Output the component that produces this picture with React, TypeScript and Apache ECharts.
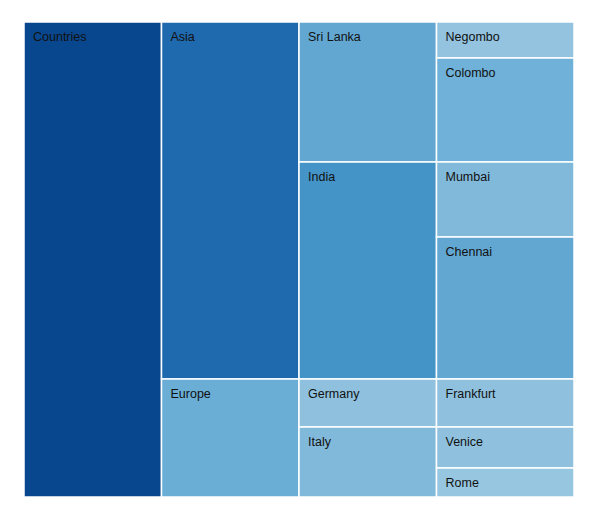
import React, { useEffect, useRef } from "react";
import * as echarts from "echarts";

const rootName = "Countries";
const regions = ["Asia", "Europe"];
const countries = ["Sri Lanka", "India", "Germany", "Italy"];
const countryRegion = ["Asia", "Asia", "Europe", "Europe"];
const cities = ["Negombo", "Colombo", "Mumbai", "Chennai", "Frankfurt", "Venice", "Rome"];
const cityCountry = ["Sri Lanka", "Sri Lanka", "India", "India", "Germany", "Italy", "Italy"];
const cityValues = [36, 104, 75, 142, 48, 41, 29];

const colors: Record<string, string> = {
  Countries: "#08478d",
  Asia: "#1f69ae",
  Europe: "#6aaed6",
  "Sri Lanka": "#62a7d2",
  India: "#4594c7",
  Germany: "#8fc1de",
  Italy: "#81b9da",
  Negombo: "#93c3df",
  Colombo: "#6fb1d8",
  Mumbai: "#81b9da",
  Chennai: "#62a7d2",
  Frankfurt: "#8fc1de",
  Venice: "#8fc1de",
  Rome: "#97c6e0",
};

function buildData() {
  const rows: any[] = [];
  const sum = (arr: number[]) => arr.reduce((a, b) => a + b, 0);
  const countryVal = (c: string) => sum(cities.map((x, i) => (cityCountry[i] === c ? cityValues[i] : 0)));
  const regionVal = (r: string) => sum(countries.map((c, i) => (countryRegion[i] === r ? countryVal(c) : 0)));
  const total = sum(regions.map(regionVal));
  rows.push({ name: rootName, value: [0, 0, total] });
  let yR = 0;
  regions.forEach((r) => {
    const rv = regionVal(r);
    rows.push({ name: r, value: [1, yR, yR + rv] });
    let yC = yR;
    countries.forEach((c, ci) => {
      if (countryRegion[ci] !== r) return;
      const cv = countryVal(c);
      rows.push({ name: c, value: [2, yC, yC + cv] });
      let yT = yC;
      cities.forEach((t, ti) => {
        if (cityCountry[ti] !== c) return;
        rows.push({ name: t, value: [3, yT, yT + cityValues[ti]] });
        yT += cityValues[ti];
      });
      yC += cv;
    });
    yR += rv;
  });
  return { rows, total };
}

export default function App() {
  const ref = useRef<HTMLDivElement>(null);
  useEffect(() => {
    const chart = echarts.init(ref.current!, null, { renderer: "svg" });
    const { rows, total } = buildData();
    chart.setOption({
      animation: false,
      grid: { left: 24, right: 27, top: 22, bottom: 26 },
      xAxis: { type: "value", min: 0, max: 4, show: false },
      yAxis: { type: "value", min: 0, max: total, inverse: true, show: false },
      series: [
        {
          type: "custom",
          data: rows,
          renderItem: (params: any, api: any) => {
            const lvl = api.value(0);
            const p0 = api.coord([lvl, api.value(1)]);
            const p1 = api.coord([lvl + 1, api.value(2)]);
            const name = rows[params.dataIndex].name;
            return {
              type: "group",
              children: [
                {
                  type: "rect",
                  shape: { x: p0[0], y: p0[1], width: p1[0] - p0[0], height: p1[1] - p0[1] },
                  style: { fill: colors[name], stroke: "#ffffff", lineWidth: 1.5 },
                },
                {
                  type: "text",
                  x: p0[0] + 9,
                  y: p0[1] + 15,
                  style: {
                    text: name,
                    fill: "#111111",
                    font: "12.5px 'Liberation Sans', Arial, sans-serif",
                    verticalAlign: "middle",
                    align: "left",
                  },
                },
              ],
            };
          },
        },
      ],
    });
    return () => chart.dispose();
  }, []);
  return <div ref={ref} style={{ position: "absolute", left: 0, top: 0, width: 601, height: 523 }} />;
}
